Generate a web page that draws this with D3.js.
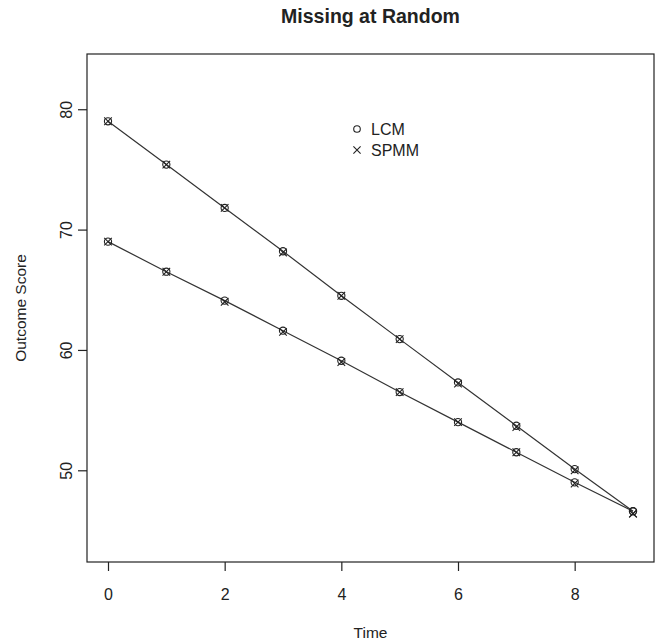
<!DOCTYPE html>
<html>
<head>
<meta charset="utf-8">
<script src="https://cdn.jsdelivr.net/npm/d3@7"></script>
<style>
  html, body { margin: 0; padding: 0; background: #fff; }
  svg text { font-family: "Liberation Sans", Arial, Helvetica, sans-serif; fill: #222; }
</style>
</head>
<body>
<svg id="chart" width="661" height="642"></svg>
<script>
// ---- Data ----
const time = [0, 1, 2, 3, 4, 5, 6, 7, 8, 9];
const lcmHigh  = [79.0, 75.4, 71.8, 68.2, 64.5, 60.9, 57.3, 53.7, 50.1, 46.6];
const spmmHigh = [79.0, 75.4, 71.8, 68.1, 64.5, 60.9, 57.2, 53.6, 50.0, 46.4];
const lcmLow   = [69.0, 66.5, 64.1, 61.6, 59.1, 56.5, 54.0, 51.5, 49.0, 46.6];
const spmmLow  = [69.0, 66.5, 64.0, 61.5, 59.0, 56.5, 54.0, 51.5, 48.9, 46.4];
const xTicks = [0, 2, 4, 6, 8];
const yTicks = [50, 60, 70, 80];
const legendLabels = ["LCM", "SPMM"];
const title = "Missing at Random";
const xTitle = "Time";
const yTitle = "Outcome Score";

// ---- Layout ----
const svg = d3.select("#chart");
const L = 87, R = 654, T = 54, B = 562;
const ink = "#222";

const x = d3.scaleLinear().domain([-0.36, 9.36]).range([L, R]);
const y = d3.scaleLinear().domain([42.38, 84.59]).range([B, T]);

// Box
svg.append("rect").attr("x", L).attr("y", T).attr("width", R - L).attr("height", B - T)
  .attr("fill", "none").attr("stroke", ink).attr("stroke-width", 1.2);

// X axis
const xAxis = svg.append("g").attr("transform", `translate(0,${B})`)
  .call(d3.axisBottom(x).tickValues(xTicks).tickSize(9).tickPadding(18).tickFormat(d3.format("d")));
xAxis.select(".domain").remove();
xAxis.selectAll("line").attr("stroke", ink).attr("stroke-width", 1.2);
xAxis.selectAll("text").attr("font-size", 16).attr("fill", ink).style("font-family", "Liberation Sans, Arial, sans-serif");

// Y axis (labels rotated like R las=0)
const yAxis = svg.append("g").attr("transform", `translate(${L},0)`)
  .call(d3.axisLeft(y).tickValues(yTicks).tickSize(9).tickFormat(d3.format("d")));
yAxis.select(".domain").remove();
yAxis.selectAll("line").attr("stroke", ink).attr("stroke-width", 1.2);
yAxis.selectAll("text")
  .attr("font-size", 16).attr("fill", ink)
  .attr("x", null).attr("dy", null)
  .attr("text-anchor", "middle")
  .attr("transform", "translate(-21,0) rotate(-90)")
  .attr("dy", "0.35em")
  .style("font-family", "Liberation Sans, Arial, sans-serif");

// Titles
svg.append("text").attr("x", (L + R) / 2).attr("y", 23).attr("text-anchor", "middle")
  .attr("font-size", 19.5).attr("font-weight", "bold").text(title);
svg.append("text").attr("x", (L + R) / 2).attr("y", 638).attr("text-anchor", "middle")
  .attr("font-size", 15.5).text(xTitle);
svg.append("text").attr("transform", `translate(26,${(T + B) / 2}) rotate(-90)`)
  .attr("text-anchor", "middle").attr("font-size", 15.5).text(yTitle);

// Lines
const line = d3.line().x((d, i) => x(time[i])).y(d => y(d));
[lcmHigh, lcmLow].forEach(s => {
  svg.append("path").datum(s).attr("d", line)
    .attr("fill", "none").attr("stroke", "#333").attr("stroke-width", 1.2);
});

// Points: LCM circles, SPMM crosses
const r = 3.6;
[lcmHigh, lcmLow].forEach(s => {
  svg.append("g").selectAll("circle").data(s).join("circle")
    .attr("cx", (d, i) => x(time[i])).attr("cy", d => y(d)).attr("r", r)
    .attr("fill", "none").attr("stroke", ink).attr("stroke-width", 1.1);
});
const crossPath = (cx, cy, h) => `M${cx - h},${cy - h}L${cx + h},${cy + h}M${cx - h},${cy + h}L${cx + h},${cy - h}`;
[spmmHigh, spmmLow].forEach(s => {
  svg.append("g").selectAll("path").data(s).join("path")
    .attr("d", (d, i) => crossPath(x(time[i]), y(d), 3.8))
    .attr("fill", "none").attr("stroke", ink).attr("stroke-width", 1.1);
});

// Legend (no box)
const lg = svg.append("g");
const lgX = 357, lgY = [129, 150];
lg.append("circle").attr("cx", lgX).attr("cy", lgY[0]).attr("r", 3.3)
  .attr("fill", "none").attr("stroke", ink).attr("stroke-width", 1.1);
lg.append("path").attr("d", crossPath(lgX, lgY[1], 3.6))
  .attr("fill", "none").attr("stroke", ink).attr("stroke-width", 1.1);
legendLabels.forEach((t, i) => {
  lg.append("text").attr("x", 371).attr("y", lgY[i]).attr("dy", "0.36em")
    .attr("font-size", 16).text(t);
});
</script>
</body>
</html>
